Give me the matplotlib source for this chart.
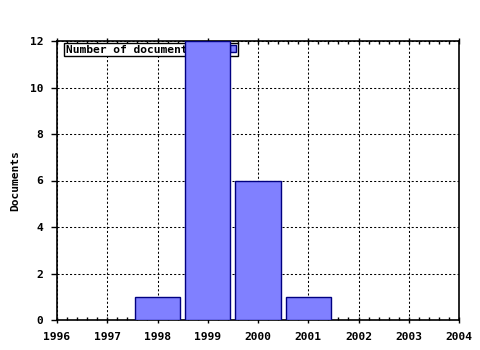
import matplotlib
matplotlib.use("Agg")
import matplotlib.pyplot as plt
from matplotlib.ticker import MultipleLocator

years = [1998, 1999, 2000, 2001]
documents = [1, 12, 6, 1]
xticks = [1996, 1997, 1998, 1999, 2000, 2001, 2002, 2003, 2004]
yticks = [0, 2, 4, 6, 8, 10, 12]

plt.rcParams['font.family'] = ['DejaVu Sans Mono']
plt.rcParams['font.weight'] = 'bold'
plt.rcParams['axes.labelweight'] = 'bold'
plt.rcParams['font.size'] = 8.1

fig = plt.figure(figsize=(4.8, 3.5), dpi=100)
ax = fig.add_axes([57/480, 1-320/350, 402/480, 279/350])

ax.bar(years, documents, width=0.9, color='#8080ff', edgecolor='#000080',
       linewidth=1, zorder=6, label='Number of documents')

ax.set_xlim(1996, 2004)
ax.set_ylim(0, 12)
ax.set_xticks(xticks)
ax.set_xticklabels([str(x) for x in xticks])
ax.set_yticks(yticks)
ax.xaxis.set_minor_locator(MultipleLocator(0.2))

ax.set_axisbelow(True)
ax.grid(True, color='black', linestyle=(0, (2, 2)), linewidth=0.75)

ax.tick_params(axis='x', which='major', direction='inout', length=5, width=1,
               top=True, pad=6)
ax.tick_params(axis='x', which='minor', direction='in', length=2, width=1, top=True)
ax.tick_params(axis='y', which='major', direction='out', length=4, width=1, pad=6)

for s in ax.spines.values():
    s.set_linewidth(1.2)

ax.set_ylabel('Documents', fontweight='bold')
ax.yaxis.set_label_coords(-(57-20)/402, 0.5)

leg = ax.legend(loc='upper left', bbox_to_anchor=(7/402, 1-2/279),
                borderaxespad=0, fancybox=False, edgecolor='black', framealpha=1,
                markerfirst=False, handlelength=0.55, handleheight=0.55,
                handletextpad=3.2, borderpad=0.15,
                prop={'family': 'DejaVu Sans Mono', 'weight': 'bold', 'size': 8.1})
leg.get_frame().set_linewidth(1)
leg.set_zorder(5)

fig.savefig('out.png', dpi=100)
